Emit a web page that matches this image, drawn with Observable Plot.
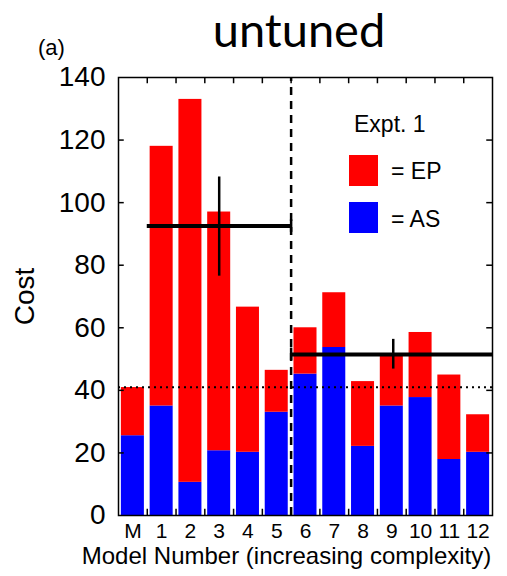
<!DOCTYPE html>
<html>
<head>
<meta charset="utf-8">
<script src="https://cdn.jsdelivr.net/npm/d3@7"></script>
<script src="https://cdn.jsdelivr.net/npm/@observablehq/plot@0.6"></script>
<style>
  html, body { margin: 0; padding: 0; background: #fff; }
  #wrap { position: relative; width: 507px; height: 576px; }
  #overlay { position: absolute; left: 0; top: 0; pointer-events: none; }
</style>
</head>
<body>
<div id="wrap">
  <div id="chart"></div>
  <svg id="overlay" width="507" height="576" font-family="'Liberation Sans', Arial, sans-serif">
    <text x="299" y="47" text-anchor="middle" font-family="Lato, 'Open Sans', sans-serif" font-size="47">untuned</text>
    <text x="38" y="55" font-size="22">(a)</text>
    <text x="354" y="132" font-size="23">Expt. 1</text>
    <rect x="349" y="155" width="29" height="31" fill="red"></rect>
    <text x="391" y="179" font-size="23">= EP</text>
    <rect x="349" y="202" width="29" height="31" fill="blue"></rect>
    <text x="391" y="227" font-size="23">= AS</text>
  </svg>
</div>
<script>
// ---- data ----
const models = ["M", "1", "2", "3", "4", "5", "6", "7", "8", "9", "10", "11", "12"];
const totalCost = [40.9, 118, 133, 97, 66.6, 46.4, 60, 71.2, 42.8, 51.3, 58.5, 44.9, 32.2]; // EP + AS
const asCost = [25.5, 35, 10.6, 20.7, 20.2, 33, 45.2, 53.7, 22.1, 35, 37.7, 17.9, 20.2];
const yTicks = [0, 20, 40, 60, 80, 100, 120, 140];
const groupStart = [1, 6];
const groupEnd = [6, 13];
const groupMean = [92.5, 51.5];
const groupErrPos = [3.5, 9.55];
const groupErrLow = [76.5, 46.8];
const groupErrHigh = [108.2, 56.3];
const baseline = 41;
const splitAt = 6;
const xLabel = "Model Number (increasing complexity)";
const yLabel = "Cost";

// ---- tables ----
const rows = models.map((m, i) => ({ m, i, as: asCost[i], total: totalCost[i] }));
const groups = groupMean.map((mean, k) => ({
  x1: groupStart[k], x2: groupEnd[k], mean,
  ex: groupErrPos[k], lo: groupErrLow[k], hi: groupErrHigh[k]
}));
const xTickPos = models.map((m, i) => i + 0.5);
const innerX = d3.range(1, models.length);
const innerY = yTicks.slice(1, -1);

const chart = Plot.plot({
  width: 507,
  height: 576,
  marginLeft: 118,
  marginRight: 15,
  marginTop: 77,
  marginBottom: 61,
  x: { domain: [0, models.length], axis: null },
  y: { domain: [0, 140], axis: null },
  style: { fontFamily: "'Liberation Sans', Arial, sans-serif", fontSize: "24px", background: "transparent", color: "black" },
  marks: [
    // AS (bottom, blue)
    Plot.rectY(rows, { x1: d => d.i + 0.1, x2: d => d.i + 0.9, y1: 0, y2: "as", fill: "blue" }),
    // EP (top, red)
    Plot.rectY(rows, { x1: d => d.i + 0.1, x2: d => d.i + 0.9, y1: "as", y2: "total", fill: "red" }),
    // dotted baseline
    Plot.ruleY([baseline], { x1: 0, x2: models.length, stroke: "black", strokeWidth: 2, strokeDasharray: "2,4" }),
    // dashed split
    Plot.ruleX([splitAt], { y1: 0, y2: 140, stroke: "black", strokeWidth: 2.5, strokeDasharray: "8,6" }),
    // group means
    Plot.ruleY(groups, { x1: "x1", x2: "x2", y: "mean", stroke: "black", strokeWidth: 4 }),
    Plot.ruleX(groups, { x: "ex", y1: "lo", y2: "hi", stroke: "black", strokeWidth: 2.5 }),
    Plot.ruleX(groups, { x: splitAt, y1: d => d.mean - 2, y2: d => d.mean + 2, stroke: "black", strokeWidth: 2.5 }),
    // inward ticks
    Plot.ruleX(innerX, { y1: 0, y2: 2, stroke: "black", strokeWidth: 1.5 }),
    Plot.ruleX(innerX, { y1: 140, y2: 138, stroke: "black", strokeWidth: 1.5 }),
    Plot.ruleY(innerY, { x1: 0, x2: 0.2, stroke: "black", strokeWidth: 1.5 }),
    Plot.ruleY(innerY, { x1: models.length, x2: models.length - 0.2, stroke: "black", strokeWidth: 1.5 }),
    // axes labels
    Plot.axisY(yTicks, { anchor: "left", tickSize: 0, tickPadding: 13, fontSize: 28, label: yLabel, labelAnchor: "center", labelArrow: "none", labelOffset: 104 }),
    Plot.axisX(xTickPos, { anchor: "bottom", tickSize: 0, tickPadding: 8, fontSize: 21, tickFormat: d => models[Math.floor(d)], label: null }),
    Plot.text([xLabel], { text: d => d, frameAnchor: "bottom", dx: -19, dy: 48, fontSize: 24, fill: "black" }),
    Plot.frame({ stroke: "black", strokeWidth: 1.5 })
  ]
});
document.getElementById("chart").appendChild(chart);
</script>
</body>
</html>
